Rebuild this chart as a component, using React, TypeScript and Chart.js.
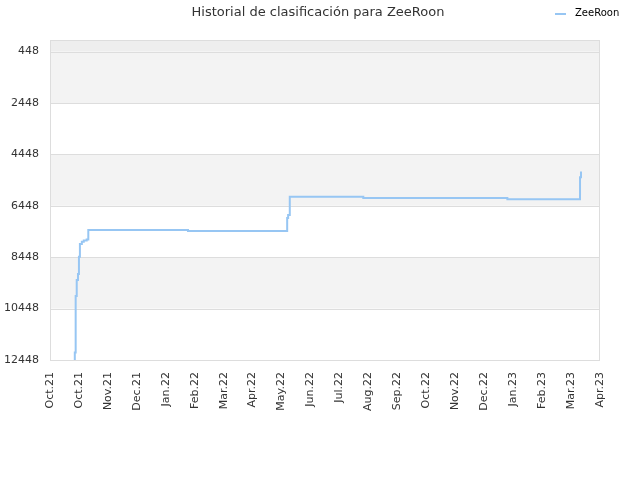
import React, { useEffect, useRef } from "react";
import { Chart, registerables } from "chart.js";

Chart.register(...registerables);

const TITLE = "Historial de clasificación para ZeeRoon";
const SERIES_NAME = "ZeeRoon";

// x = days since the start of the axis (tick every 30 days)
const dayValues = [25.5, 25.7, 26.6, 27.7, 29, 30, 31, 33, 35, 38, 39.7, 143, 245.8, 246.8, 248.5, 324.7, 474, 549.3, 550.3];
const rankValues = [12448, 12160, 9960, 9340, 9100, 8430, 7940, 7850, 7800, 7760, 7390, 7430, 6920, 6810, 6100, 6150, 6190, 5340, 5120];

const xTickLabels = [
  "Oct.21", "Oct.21", "Nov.21", "Dec.21", "Jan.22", "Feb.22", "Mar.22", "Apr.22", "May.22", "Jun.22",
  "Jul.22", "Aug.22", "Sep.22", "Oct.22", "Nov.22", "Dec.22", "Jan.23", "Feb.23", "Mar.23", "Apr.23",
];
const yTickValues = [448, 2448, 4448, 6448, 8448, 10448, 12448];

const LINE_COLOR = "#97c6f3";
const FONT = "'DejaVu Sans', sans-serif";

export default function App() {
  const ref = useRef<HTMLCanvasElement | null>(null);

  useEffect(() => {
    document.body.style.margin = "0";
    const canvas = ref.current;
    if (!canvas) return;

    const bgPlugin = {
      id: "bands",
      beforeDatasetsDraw(chart: any) {
        const { ctx, chartArea, scales } = chart;
        const y = scales.y;
        ctx.save();
        const yFirst = y.getPixelForValue(yTickValues[0]);
        ctx.fillStyle = "#eeeeee";
        ctx.fillRect(chartArea.left, chartArea.top, chartArea.right - chartArea.left, yFirst - chartArea.top);
        const grayIdx = [0, 2, 4];
        for (const i of grayIdx) {
          const a = y.getPixelForValue(yTickValues[i]);
          const b = y.getPixelForValue(yTickValues[i + 1]);
          ctx.fillStyle = "#f3f3f3";
          ctx.fillRect(chartArea.left, a, chartArea.right - chartArea.left, b - a);
        }
        ctx.strokeStyle = "#dddddd";
        ctx.lineWidth = 1;
        for (const v of yTickValues) {
          const p = Math.round(y.getPixelForValue(v)) + 0.5;
          ctx.beginPath();
          ctx.moveTo(chartArea.left, p);
          ctx.lineTo(chartArea.right, p);
          ctx.stroke();
        }
        ctx.strokeRect(chartArea.left + 0.5, chartArea.top + 0.5, chartArea.right - chartArea.left - 1, chartArea.bottom - chartArea.top);
        ctx.restore();
      },
      afterDraw(chart: any) {
        const { ctx } = chart;
        ctx.save();
        ctx.fillStyle = "#333333";
        ctx.font = `13px ${FONT}`;
        ctx.textAlign = "center";
        ctx.textBaseline = "middle";
        ctx.fillText(TITLE, 318, 13);
        ctx.strokeStyle = LINE_COLOR;
        ctx.lineWidth = 2;
        ctx.beginPath();
        ctx.moveTo(555, 14);
        ctx.lineTo(566, 14);
        ctx.stroke();
        ctx.fillStyle = "#000000";
        ctx.font = `10px ${FONT}`;
        ctx.textAlign = "left";
        ctx.fillText(SERIES_NAME, 575, 13);
        ctx.restore();
      },
    };

    const chart = new Chart(canvas, {
      type: "line",
      data: {
        datasets: [
          {
            label: SERIES_NAME,
            data: dayValues.map((d, i) => ({ x: d, y: rankValues[i] })),
            borderColor: LINE_COLOR,
            borderWidth: 2,
            pointRadius: 0,
            stepped: "before",
            fill: false,
          },
        ],
      },
      options: {
        animation: false,
        responsive: false,
        devicePixelRatio: 1,
        layout: { padding: { top: 40, right: 40, left: 0, bottom: 0 } },
        plugins: { legend: { display: false }, title: { display: false }, tooltip: { enabled: false } },
        scales: {
          x: {
            type: "linear",
            min: 0,
            max: 570,
            afterBuildTicks(scale: any) {
              scale.ticks = xTickLabels.map((_, i) => ({ value: i * 30 }));
            },
            afterFit(scale: any) {
              scale.height = 120;
            },
            grid: { display: false, drawTicks: false },
            border: { display: false },
            ticks: {
              autoSkip: false,
              maxRotation: 90,
              minRotation: 90,
              padding: 12,
              color: "#333333",
              font: { family: FONT, size: 11 },
              callback: (_v: any, i: number) => xTickLabels[i],
            },
          },
          y: {
            reverse: true,
            min: 0,
            max: 12448,
            afterBuildTicks(scale: any) {
              scale.ticks = yTickValues.map((v) => ({ value: v }));
            },
            afterFit(scale: any) {
              scale.width = 50;
            },
            grid: { display: false, drawTicks: false },
            border: { display: false },
            ticks: {
              padding: 11,
              color: "#333333",
              font: { family: FONT, size: 11 },
              callback: (v: any) => String(v),
            },
          },
        },
      },
      plugins: [bgPlugin],
    });
    return () => chart.destroy();
  }, []);

  return (
    <div style={{ width: 640, height: 480 }}>
      <canvas ref={ref} width={640} height={480} />
    </div>
  );
}
